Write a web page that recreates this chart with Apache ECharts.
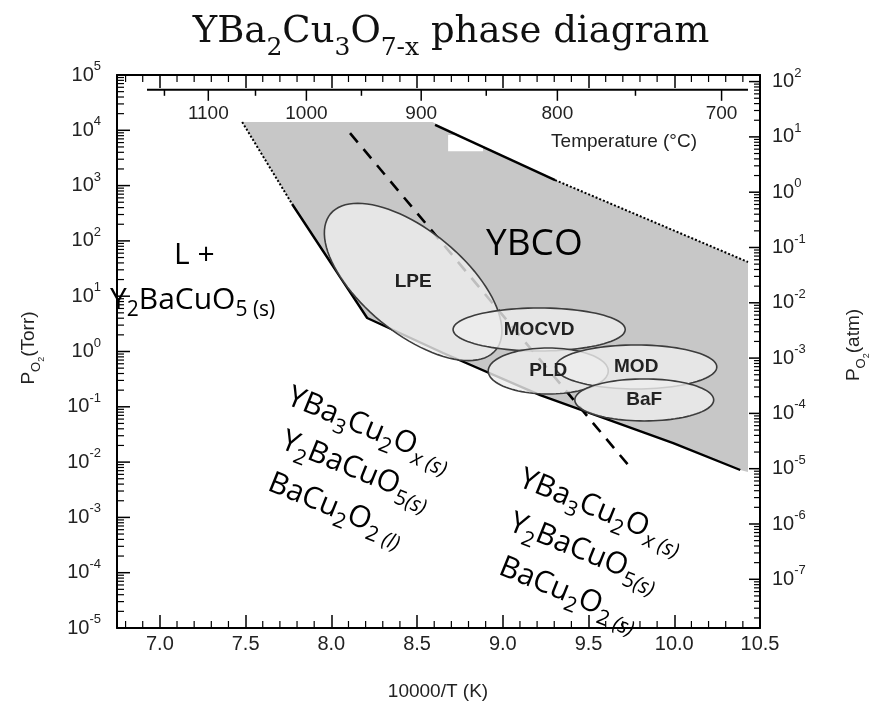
<!DOCTYPE html>
<html><head><meta charset="utf-8">
<script src="https://cdn.jsdelivr.net/npm/echarts@6/dist/echarts.min.js"></script>
<style>html,body{margin:0;padding:0;background:#fff}#c{width:869px;height:715px}</style>
</head><body><div id="c"></div>
<script>
// ---------- data ----------
const xRange = [6.75, 10.5];
const torrRange = [1e-5, 1e5];
const torrPerAtm = 760;
const torrExponents = [-5, -4, -3, -2, -1, 0, 1, 2, 3, 4, 5];
const atmExponents = [-7, -6, -5, -4, -3, -2, -1, 0, 1, 2];
const logMinorSteps = [2, 3, 4, 5, 6, 7, 8, 9];
const xMinorTicks = [6.8,6.9,7.1,7.2,7.3,7.4,7.6,7.7,7.8,7.9,8.1,8.2,8.3,8.4,8.6,8.7,8.8,8.9,9.1,9.2,9.3,9.4,9.6,9.7,9.8,9.9,10.1,10.2,10.3,10.4];
const tempMajorC = [1100, 1000, 900, 800, 700];
const tempMinorC = [1150, 1050, 950, 850, 750];
const tempAxisTorr = 5.4e4;
const tempAxisSpanX = [6.925, 10.43];

// YBCO stability region (10000/T, P in Torr)
const regionX = [7.48, 8.59, 9.305, 10.43, 10.43, 10.385, 9.994, 9.218, 8.652, 8.209, 7.771];
const regionTorr = [1.41e4, 1.41e4, 1.26e3, 41.5, 6.6e-3, 7.2e-3, 2.2e-2, 0.163, 0.94, 4.04, 465];
const patchX = [8.681, 8.885];
const patchTorr = [8.2e3, 4.2e3];

const upperSolidX = [8.605, 9.305];
const upperSolidTorr = [1.25e4, 1.26e3];
const upperDottedX = [9.305, 10.43];
const upperDottedTorr = [1.26e3, 41.5];
const leftDottedX = [7.48, 7.771];
const leftDottedTorr = [1.41e4, 465];
const lowerSolidX = [7.771, 8.209, 8.652, 9.218, 9.994, 10.385];
const lowerSolidTorr = [465, 4.04, 0.94, 0.163, 0.022, 0.0072];
const dashedX = [8.109, 9.731];
const dashedTorr = [8.9e3, 8.9e-3];

// processing windows (ellipses): centre, major & minor semi-axis vectors (dX, d log10 P)
const ellipseNames = ['LPE', 'MOCVD', 'PLD', 'MOD', 'BaF'];
const ellipseCenterX = [8.477, 9.212, 9.265, 9.778, 9.825];
const ellipseCenterTorr = [18.1, 2.5, 0.444, 0.525, 0.133];
const ellipseMajorDX = [0.482, 0.502, 0.350, 0.470, 0.405];
const ellipseMajorDDec = [-1.231, 0, 0, 0, 0];
const ellipseMinorDX = [-0.189, 0, 0, 0, 0];
const ellipseMinorDDec = [-0.712, 0.389, 0.416, 0.398, 0.380];

// ---------- chart ----------
const chart = echarts.init(document.getElementById('c'));
const SANS = 'Liberation Sans';
const CAL = 'Open Sans';

function pairs(xs, ys) { return xs.map((x, i) => [x, ys[i]]); }
const expRich = {
  b: {fontSize: 20, fontFamily: SANS, fill: '#222', lineHeight: 30},
  e: {fontSize: 13, fontFamily: SANS, fill: '#222', lineHeight: 12, verticalAlign: 'top'}
};
function chemRich(base, sub, pad) {
  return {
    n: {fontFamily: CAL, fontSize: base, lineHeight: base + 4, verticalAlign: 'top', fill: '#000'},
    s: {fontFamily: CAL, fontSize: sub, lineHeight: sub, padding: [pad, 0, 0, 0], verticalAlign: 'top', fill: '#000'},
    i: {fontFamily: CAL, fontSize: sub, fontStyle: 'italic', lineHeight: sub, padding: [pad, 0, 0, 0], verticalAlign: 'top', fill: '#000'}
  };
}
function lineSeries(xs, ys, type, width) {
  return {
    type: 'line', data: pairs(xs, ys), symbol: 'none', silent: true, animation: false,
    lineStyle: {color: '#000', width: width, type: type}, z: 3
  };
}

const axisLineStyle = {color: '#000', width: 2};
const ROT = -22 * Math.PI / 180;

const option = {
  animation: false,
  grid: {left: 117, right: 109, top: 75, bottom: 87, outerBoundsMode: 'none'},
  xAxis: [{
    type: 'value', min: xRange[0], max: xRange[1], splitNumber: 8, position: 'bottom',
    axisLine: {onZero: false, lineStyle: axisLineStyle},
    axisTick: {inside: true, length: 13, lineStyle: {color: '#000', width: 1.5}},
    axisLabel: {margin: 6, fontSize: 20, fontFamily: SANS, color: '#222', showMinLabel: false,
      formatter: v => v.toFixed(1)},
    splitLine: {show: false}
  }, {
    type: 'value', min: xRange[0], max: xRange[1], splitNumber: 8, position: 'top',
    axisLine: {onZero: false, lineStyle: axisLineStyle},
    axisTick: {inside: true, length: 13, lineStyle: {color: '#000', width: 1.5}},
    axisLabel: {show: false}, splitLine: {show: false}
  }],
  yAxis: [{
    type: 'log', logBase: 10, min: torrRange[0], max: torrRange[1], position: 'left',
    axisLine: {onZero: false, lineStyle: axisLineStyle},
    axisTick: {show: false}, axisLabel: {show: false}, splitLine: {show: false}
  }, {
    type: 'log', logBase: 10, min: torrRange[0] / torrPerAtm, max: torrRange[1] / torrPerAtm, position: 'right',
    axisLine: {onZero: false, lineStyle: axisLineStyle},
    axisTick: {show: false}, axisLabel: {show: false}, splitLine: {show: false}
  }],
  series: [
    // grey stability field
    {
      type: 'custom', silent: true, data: [[regionX[0], regionTorr[0]]], z: 2,
      renderItem: (params, api) => ({
        type: 'polygon',
        shape: {points: regionX.map((x, i) => api.coord([x, regionTorr[i]]))},
        style: {fill: '#c7c7c7'}
      })
    },
    // white patch
    {
      type: 'custom', silent: true, data: [[patchX[0], patchTorr[0]]], z: 2,
      renderItem: (params, api) => {
        const a = api.coord([patchX[0], patchTorr[0]]);
        const b = api.coord([patchX[1], patchTorr[1]]);
        return {type: 'rect', shape: {x: a[0], y: a[1], width: b[0] - a[0], height: b[1] - a[1]}, style: {fill: '#fff'}};
      }
    },
    // y major ticks + labels (Torr left, atm right) and minor ticks
    {
      type: 'custom', silent: true, data: [[8, 1]], z: 4,
      renderItem: (params, api) => {
        const cs = params.coordSys;
        const children = [];
        const st = {stroke: '#000', lineWidth: 1.2};
        const stM = {stroke: '#000', lineWidth: 1.5};
        const R = cs.x + cs.width;
        torrExponents.forEach(k => {
          const y = api.coord([xRange[0], Math.pow(10, k)])[1];
          children.push({type: 'line', shape: {x1: cs.x, y1: y, x2: cs.x + 13, y2: y}, style: stM});
          children.push({type: 'text', x: cs.x - 16, y: y, style: {text: '{b|10}{e|' + k + '}', rich: expRich, align: 'right', verticalAlign: 'middle'}});
          if (k < 5) logMinorSteps.forEach(m => {
            const ym = api.coord([xRange[0], m * Math.pow(10, k)])[1];
            children.push({type: 'line', shape: {x1: cs.x, y1: ym, x2: cs.x + 7, y2: ym}, style: st});
          });
        });
        atmExponents.forEach(k => {
          const y = api.coord([xRange[0], Math.pow(10, k) * torrPerAtm])[1];
          children.push({type: 'line', shape: {x1: R - 11, y1: y, x2: R, y2: y}, style: stM});
          children.push({type: 'text', x: R + 12, y: y, style: {text: '{b|10}{e|' + k + '}', rich: expRich, align: 'left', verticalAlign: 'middle'}});
        });
        for (let k = -8; k <= 2; k++) {
          logMinorSteps.forEach(m => {
            const t = m * Math.pow(10, k) * torrPerAtm;
            if (t <= torrRange[0] || t >= torrRange[1]) return;
            const y = api.coord([xRange[0], t])[1];
            children.push({type: 'line', shape: {x1: R - 6, y1: y, x2: R, y2: y}, style: st});
          });
        }
        xMinorTicks.forEach(v => {
          const x = api.coord([v, 1])[0];
          children.push({type: 'line', shape: {x1: x, y1: cs.y + cs.height, x2: x, y2: cs.y + cs.height - 7}, style: st});
          children.push({type: 'line', shape: {x1: x, y1: cs.y, x2: x, y2: cs.y + 7}, style: st});
        });
        return {type: 'group', children};
      }
    },
    // temperature scale
    {
      type: 'custom', silent: true, data: [[8, tempAxisTorr]], z: 4,
      renderItem: (params, api) => {
        const a = api.coord([tempAxisSpanX[0], tempAxisTorr]);
        const b = api.coord([tempAxisSpanX[1], tempAxisTorr]);
        const children = [{type: 'line', shape: {x1: a[0], y1: a[1], x2: b[0], y2: b[1]}, style: {stroke: '#000', lineWidth: 2}}];
        tempMajorC.forEach(t => {
          const x = api.coord([10000 / (t + 273.15), tempAxisTorr])[0];
          children.push({type: 'line', shape: {x1: x, y1: a[1], x2: x, y2: a[1] + 11}, style: {stroke: '#000', lineWidth: 1.5}});
          children.push({type: 'text', x: x, y: a[1] + 24, style: {text: String(t), fontSize: 19, fontFamily: SANS, fill: '#222', align: 'center', verticalAlign: 'middle'}});
        });
        tempMinorC.forEach(t => {
          const x = api.coord([10000 / (t + 273.15), tempAxisTorr])[0];
          children.push({type: 'line', shape: {x1: x, y1: a[1], x2: x, y2: a[1] + 6}, style: {stroke: '#000', lineWidth: 1.5}});
        });
        children.push({type: 'text', x: b[0] - 51, y: a[1] + 52, style: {text: 'Temperature (°C)', fontSize: 19, fontFamily: SANS, fill: '#222', align: 'right', verticalAlign: 'middle'}});
        return {type: 'group', children};
      }
    },
    Object.assign(lineSeries(dashedX, dashedTorr, [12, 9], 2.6), {z: 2}),
    lineSeries(upperSolidX, upperSolidTorr, 'solid', 2.4),
    lineSeries(upperDottedX, upperDottedTorr, [2, 2], 2),
    lineSeries(leftDottedX, leftDottedTorr, [2, 2], 2),
    lineSeries(lowerSolidX, lowerSolidTorr, 'solid', 2.4),
    // ellipses
    {
      type: 'custom', silent: true, z: 5,
      data: pairs(ellipseCenterX, ellipseCenterTorr),
      renderItem: (params, api) => {
        const i = params.dataIndex;
        const c = Math.log10(ellipseCenterTorr[i]);
        const pts = [];
        for (let s = 0; s < 96; s++) {
          const t = s / 96 * Math.PI * 2;
          const x = ellipseCenterX[i] + ellipseMajorDX[i] * Math.cos(t) + ellipseMinorDX[i] * Math.sin(t);
          const l = c + ellipseMajorDDec[i] * Math.cos(t) + ellipseMinorDDec[i] * Math.sin(t);
          pts.push(api.coord([x, Math.pow(10, l)]));
        }
        return {type: 'polygon', shape: {points: pts}, style: {fill: 'rgba(238,238,238,0.8)', stroke: '#3c3c3c', lineWidth: 1.6}};
      }
    },
    // ellipse labels
    {
      type: 'custom', silent: true, z: 6,
      data: pairs(ellipseCenterX, ellipseCenterTorr),
      renderItem: (params, api) => {
        const i = params.dataIndex;
        const p = api.coord([ellipseCenterX[i], ellipseCenterTorr[i]]);
        return {type: 'text', x: p[0], y: p[1], style: {text: ellipseNames[i], fontSize: 19, fontWeight: 'bold', fontFamily: SANS, fill: '#222', align: 'center', verticalAlign: 'middle'}};
      }
    }
  ],
  graphic: [
    {type: 'text', x: 451, y: 14, z: 10, style: {
      text: '{t|YBa}{s|2}{t|Cu}{s|3}{t|O}{s|7-x}{t| phase diagram}', align: 'center', verticalAlign: 'top',
      rich: {
        t: {fontFamily: 'DejaVu Serif', fontSize: 37, lineHeight: 40, verticalAlign: 'top', fill: '#111'},
        s: {fontFamily: 'DejaVu Serif', fontSize: 25, lineHeight: 25, padding: [22, 0, 0, 0], verticalAlign: 'top', fill: '#111'}
      }}},
    {type: 'text', x: 486, y: 226, z: 10, style: {text: 'YBCO', fontFamily: CAL, fontSize: 37, lineHeight: 37, fill: '#000', verticalAlign: 'top'}},
    {type: 'text', x: 174, y: 240, z: 10, style: {text: 'L +', fontFamily: CAL, fontSize: 30, lineHeight: 30, fill: '#000', verticalAlign: 'top'}},
    {type: 'text', x: 110, y: 285, z: 10, style: {text: '{n|Y}{s|2}{n|BaCuO}{s|5 (s)}', verticalAlign: 'top', rich: chemRich(30, 21, 15)}},
    // rotated phase-field labels
    {type: 'text', x: 294, y: 382, rotation: ROT, z: 10, style: {text: '{n|YBa}{s|3}{n|Cu}{s|2}{n|O}{i|x (s)}', verticalAlign: 'top', rich: chemRich(30, 21, 15)}},
    {type: 'text', x: 288, y: 426, rotation: ROT, z: 10, style: {text: '{n|Y}{s|2}{n|BaCuO}{s|5}{i|(s)}', verticalAlign: 'top', rich: chemRich(30, 21, 15)}},
    {type: 'text', x: 275, y: 468, rotation: ROT, z: 10, style: {text: '{n|BaCu}{s|2}{n|O}{s|2 }{i|(l)}', verticalAlign: 'top', rich: chemRich(30, 21, 15)}},
    {type: 'text', x: 526, y: 464, rotation: ROT, z: 10, style: {text: '{n|YBa}{s|3}{n|Cu}{s|2}{n|O}{i|x (s)}', verticalAlign: 'top', rich: chemRich(30, 21, 15)}},
    {type: 'text', x: 516, y: 508, rotation: ROT, z: 10, style: {text: '{n|Y}{s|2}{n|BaCuO}{s|5}{i|(s)}', verticalAlign: 'top', rich: chemRich(30, 21, 15)}},
    {type: 'text', x: 506, y: 552, rotation: ROT, z: 10, style: {text: '{n|BaCu}{s|2}{n|O}{s|2 }{i|(s)}', verticalAlign: 'top', rich: chemRich(30, 21, 15)}},
    // axis names
    {type: 'text', x: 438, y: 692, z: 10, style: {text: '10000/T (K)', fontFamily: SANS, fontSize: 19, fill: '#222', align: 'center', verticalAlign: 'middle'}},
    {type: 'text', x: 30, y: 348, rotation: Math.PI / 2, z: 10, style: {
      text: '{a|P}{b|O}{c|2}{a|(Torr)}', align: 'center', verticalAlign: 'middle',
      rich: {a: {fontFamily: SANS, fontSize: 19, lineHeight: 22, fill: '#222', verticalAlign: 'top'},
             b: {fontFamily: SANS, fontSize: 13, lineHeight: 13, padding: [11, 0, 0, 0], fill: '#222', verticalAlign: 'top'},
             c: {fontFamily: SANS, fontSize: 9, lineHeight: 9, padding: [18, 0, 0, 0], fill: '#222', verticalAlign: 'top'}}}},
    {type: 'text', x: 855, y: 345, rotation: Math.PI / 2, z: 10, style: {
      text: '{a|P}{b|O}{c|2}{a|(atm)}', align: 'center', verticalAlign: 'middle',
      rich: {a: {fontFamily: SANS, fontSize: 19, lineHeight: 22, fill: '#222', verticalAlign: 'top'},
             b: {fontFamily: SANS, fontSize: 13, lineHeight: 13, padding: [11, 0, 0, 0], fill: '#222', verticalAlign: 'top'},
             c: {fontFamily: SANS, fontSize: 9, lineHeight: 9, padding: [18, 0, 0, 0], fill: '#222', verticalAlign: 'top'}}}}
  ]
};
chart.setOption(option);
</script></body></html>
